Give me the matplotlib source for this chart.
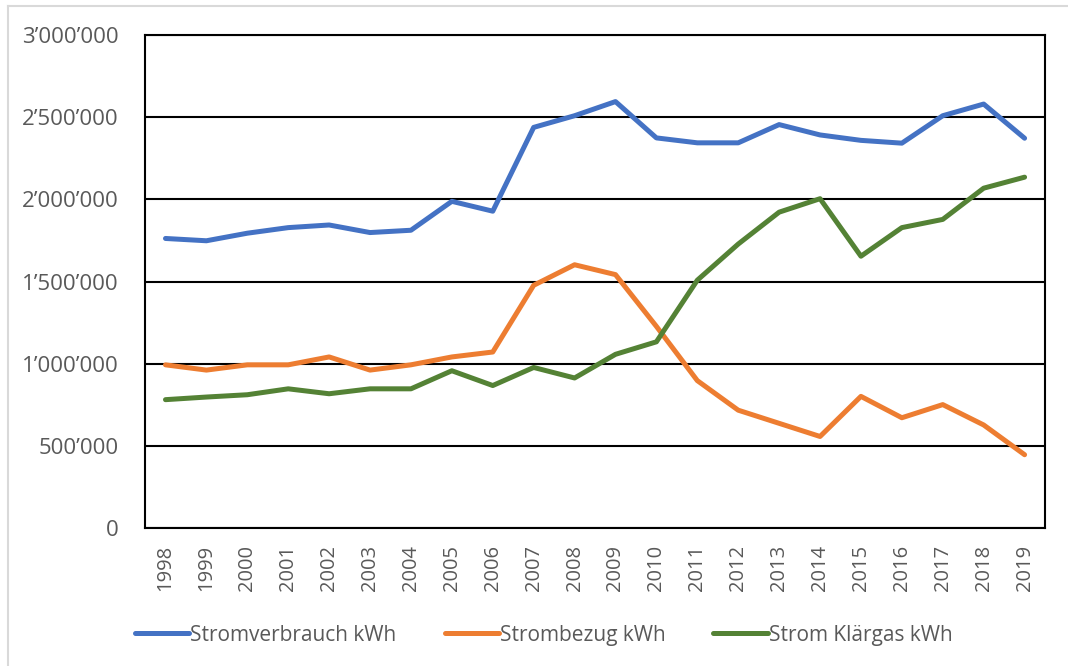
import matplotlib
matplotlib.use("Agg")
import matplotlib.pyplot as plt
from matplotlib.ticker import FuncFormatter
from matplotlib.lines import Line2D

plt.rcParams['font.family'] = ['Open Sans', 'DejaVu Sans']

jahre = list(range(1998, 2020))
stromverbrauch = [1762000, 1748000, 1794000, 1828000, 1844000, 1798000, 1812000,
                  1988000, 1928000, 2438000, 2509000, 2595000, 2374000, 2344000,
                  2344000, 2455000, 2392000, 2359000, 2342000, 2509000, 2580000,
                  2372000]
strombezug = [993000, 961000, 993000, 993000, 1041000, 961000, 993000,
              1041000, 1071000, 1477000, 1602000, 1542000, 1227000, 897000,
              717000, 637000, 557000, 801000, 671000, 751000, 627000, 446000]
klaergas = [781000, 797000, 811000, 847000, 817000, 847000, 847000,
            957000, 867000, 977000, 913000, 1057000, 1133000, 1508000,
            1728000, 1922000, 2004000, 1654000, 1828000, 1878000, 2068000,
            2135000]

serien = [("Stromverbrauch kWh", stromverbrauch, "#4472C4"),
          ("Strombezug kWh", strombezug, "#ED7D31"),
          ("Strom Klärgas kWh", klaergas, "#548235")]

fig = plt.figure(figsize=(10.68, 6.66), dpi=100)
ax = fig.add_axes([0.1358, 0.2072, 0.8427, 0.7402])

x = range(len(jahre))
for name, werte, farbe in serien:
    ax.plot(x, werte, color=farbe, lw=3.6, label=name, solid_capstyle='round',
            solid_joinstyle='round', zorder=3)

ax.set_xlim(-0.5, len(jahre) - 0.5)
ax.set_ylim(0, 3000000)
ax.set_yticks(range(0, 3000001, 500000))
ax.yaxis.set_major_formatter(FuncFormatter(lambda v, p: f"{int(v):,}".replace(",", "\u2019")))
ax.set_xticks(list(x))
ax.set_xticklabels([str(j) for j in jahre], rotation=90)
ax.grid(axis='y', color='black', lw=1.5, zorder=1)
for s in ax.spines.values():
    s.set_color('black')
    s.set_linewidth(1.5)
ax.tick_params(axis='y', length=0, pad=19, labelsize=16, labelcolor='#595959')
ax.tick_params(axis='x', length=0, pad=12, labelsize=14.5, labelcolor='#595959')

ax.legend(loc='upper center', bbox_to_anchor=(0.443, -0.158), ncol=3, frameon=False,
          fontsize=15, handlelength=2.6, handletextpad=0.05, columnspacing=2.3,
          labelcolor='#595959')

# hellgrauer Rahmen oben/links
fig.add_artist(Line2D([8/1068, 1], [1 - 6/666, 1 - 6/666], color='#d9d9d9', lw=1.5))
fig.add_artist(Line2D([8/1068, 8/1068], [0, 1 - 6/666], color='#d9d9d9', lw=1.5))

fig.savefig("out.png", dpi=100)
